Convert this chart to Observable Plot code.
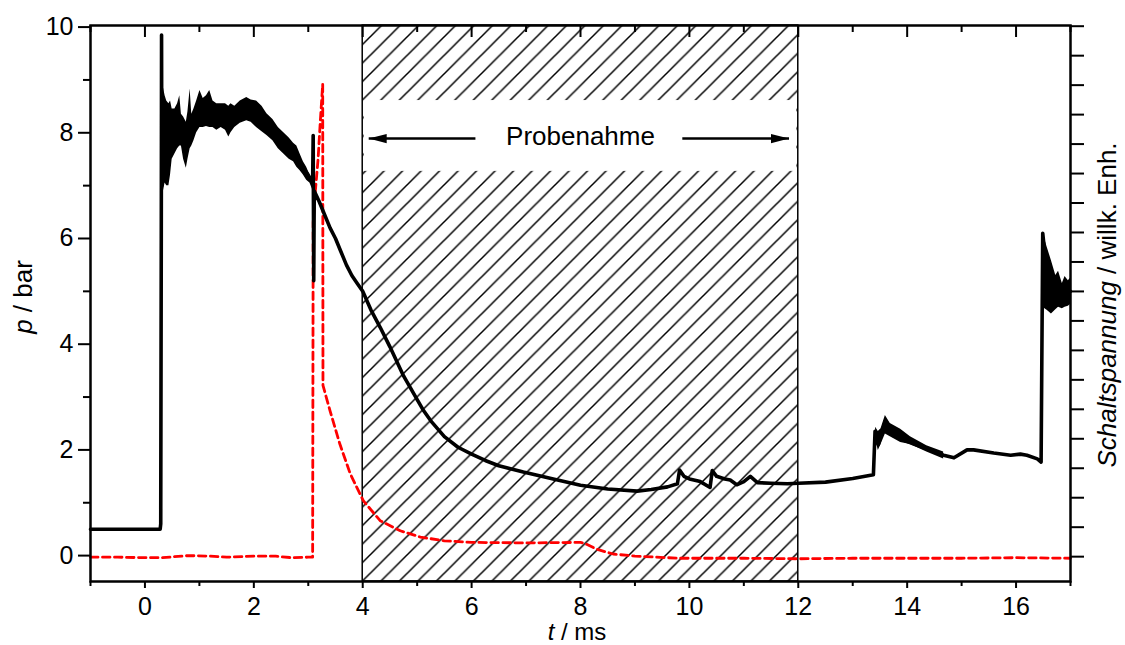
<!DOCTYPE html>
<html>
<head>
<meta charset="utf-8">
<script src="https://cdn.jsdelivr.net/npm/d3@7"></script>
<script src="https://cdn.jsdelivr.net/npm/@observablehq/plot@0.6"></script>
<style>
  body { margin: 0; background: #fff; }
  svg { display: block; }
</style>
</head>
<body>
<div id="chart"></div>
<script>
// ---------- data ----------
// pressure trace p(t) [bar], t in ms
const pT = [-1.0, 0.0, 0.28, 0.29, 0.30, 0.305, 0.31, 0.33, 0.4, 0.6, 0.8, 1.0, 1.5, 1.9, 2.2, 2.5, 2.8, 3.0,
  3.08, 3.09, 3.10, 3.11, 3.2, 3.3, 3.4, 3.5, 3.6, 3.7, 3.8, 3.9, 4.0, 4.15, 4.32, 4.5, 4.75, 5.0, 5.12, 5.25,
  5.5, 5.75, 6.0, 6.25, 6.5, 6.95, 7.5, 8.0, 8.5, 9.04, 9.3, 9.6, 9.78, 9.82, 9.9, 10.0, 10.2, 10.38, 10.42,
  10.5, 10.65, 10.75, 10.87, 11.0, 11.12, 11.25, 11.5, 11.8, 12.0, 12.5, 13.0, 13.38, 13.41, 13.47, 13.6,
  13.7, 13.9, 14.1, 14.36, 14.67, 14.86, 15.1, 15.22, 15.59, 15.9, 16.08, 16.2, 16.39, 16.46, 16.49, 16.55,
  16.65, 16.8, 17.0];
const pV = [0.5, 0.5, 0.5, 0.6, 6.0, 9.85, 7.0, 7.8, 7.8, 8.1, 8.0, 8.4, 8.3, 8.45, 8.2, 7.85, 7.5, 7.2,
  7.05, 7.95, 5.2, 6.9, 6.7, 6.45, 6.2, 6.0, 5.75, 5.5, 5.3, 5.15, 5.0, 4.65, 4.32, 3.95, 3.4, 2.95, 2.74, 2.55,
  2.25, 2.05, 1.92, 1.8, 1.7, 1.58, 1.45, 1.33, 1.26, 1.22, 1.25, 1.3, 1.36, 1.62, 1.5, 1.45, 1.4, 1.29, 1.61,
  1.5, 1.45, 1.43, 1.34, 1.4, 1.5, 1.38, 1.37, 1.36, 1.37, 1.39, 1.46, 1.53, 2.35, 2.1, 2.55,
  2.4, 2.2, 2.12, 2.02, 1.9, 1.85, 2.0, 2.0, 1.94, 1.9, 1.92, 1.9, 1.83, 1.77, 6.1, 5.5,
  5.1, 5.0, 5.0];

// noise envelope of the pressure trace (t, lower, upper)
const nT  = [0.31, 0.34, 0.37, 0.40, 0.44, 0.47, 0.50, 0.55, 0.60, 0.64, 0.67, 0.71, 0.76, 0.79, 0.83, 0.86,
  0.90, 0.95, 1.01, 1.07, 1.13, 1.19, 1.25, 1.32, 1.40, 1.48, 1.54, 1.58, 1.65, 1.75, 1.87, 1.95, 2.05, 2.15,
  2.24, 2.35, 2.45, 2.55, 2.65, 2.73, 2.79, 2.85, 2.91, 2.97, 3.03, 3.09];
const nLo = [6.2, 6.9, 7.05, 7.0, 7.0, 7.2, 7.5, 7.6, 7.7, 7.75, 7.75, 7.5, 7.33, 7.5, 7.7, 7.75,
  7.85, 8.0, 8.1, 8.1, 8.12, 8.1, 8.1, 8.05, 8.1, 8.05, 7.92, 8.0, 8.1, 8.18, 8.23, 8.2, 8.1, 8.02,
  7.95, 7.85, 7.7, 7.6, 7.5, 7.45, 7.35, 7.28, 7.2, 7.1, 7.05, 6.9];
const nHi = [8.9, 8.85, 8.7, 8.6, 8.55, 8.6, 8.45, 8.45, 8.55, 8.7, 8.35, 8.3, 8.2, 8.4, 8.83, 8.35,
  8.45, 8.6, 8.8, 8.65, 8.7, 8.8, 8.6, 8.55, 8.55, 8.55, 8.5, 8.55, 8.5, 8.6, 8.67, 8.62, 8.6, 8.5,
  8.36, 8.25, 8.1, 8.0, 7.9, 7.8, 7.75, 7.6, 7.45, 7.35, 7.2, 7.1];

const n2T  = [13.42, 13.47, 13.52, 13.60, 13.69, 13.88, 14.06, 14.36, 14.67];
const n2Lo = [2.2, 1.99, 2.1, 2.3, 2.25, 2.14, 2.1, 1.96, 1.83];
const n2Hi = [2.43, 2.35, 2.4, 2.65, 2.5, 2.39, 2.25, 2.08, 1.96];

const n3T  = [16.49, 16.57, 16.65, 16.73, 16.78, 16.85, 16.90, 16.96, 17.0];
const n3Lo = [4.7, 4.64, 4.57, 4.65, 4.7, 4.67, 4.7, 4.72, 4.75];
const n3Hi = [6.12, 5.84, 5.58, 5.3, 5.38, 5.15, 5.28, 5.2, 5.25];

// switching voltage (arbitrary units, drawn on the p scale)
const sT = [-1.0, -0.5, 0.0, 0.3, 0.8, 1.2, 1.5, 2.0, 2.4, 2.7, 3.0, 3.08, 3.09, 3.13, 3.18, 3.22, 3.265, 3.27,
  3.4, 3.58, 3.77, 4.01, 4.32, 4.69, 5.06, 5.5, 6.0, 7.0, 8.0, 8.1, 8.3, 8.6, 9.0, 9.8, 11.0, 12.0, 13.0,
  14.0, 15.0, 16.0, 17.0];
const sV = [-0.03, -0.03, -0.04, -0.04, 0.0, -0.01, -0.03, -0.01, -0.01, -0.04, -0.03, -0.03, 6.3, 6.9, 7.5, 8.2, 8.92, 3.22,
  2.74, 2.11, 1.55, 1.04, 0.66, 0.47, 0.35, 0.28, 0.25, 0.24, 0.25, 0.22, 0.12, 0.03, -0.01, -0.05, -0.05, -0.06, -0.05,
  -0.05, -0.05, -0.04, -0.05];

// sampling window
const windowStart = [4];
const windowEnd = [12];
const windowLabel = ["Probenahme"];

// ticks
const xMajor = [0, 2, 4, 6, 8, 10, 12, 14, 16];
const xMinor = [-1, 1, 3, 5, 7, 9, 11, 13, 15, 17];
const yMajor = [0, 2, 4, 6, 8, 10];
const yMinor = [1, 3, 5, 7, 9];
const voltTicks = [0, 1, 2, 3, 4, 5, 6, 7, 8, 9, 10, 11, 12, 13, 14, 15, 16, 17, 18];

// ---------- build ----------
const FONT = "'Liberation Sans', Arial, Helvetica, sans-serif";
const W = 1125, H = 645;
const M = {left: 90, right: 55, top: 25, bottom: 64};
const xDomain = [-1, 17];
const yDomain = [-0.49, 10.03];
const voltZero = -0.02, voltStep = 0.5576;   // right-axis unit on the p scale

const pData = pT.map((t, i) => ({t, p: pV[i]}));
const sData = sT.map((t, i) => ({t, s: sV[i]}));
const band1 = nT.map((t, i) => ({t, lo: nLo[i], hi: nHi[i]}));
const band2 = n2T.map((t, i) => ({t, lo: n2Lo[i], hi: n2Hi[i]}));
const band3 = n3T.map((t, i) => ({t, lo: n3Lo[i], hi: n3Hi[i]}));
const win = windowStart.map((a, i) => ({a, b: windowEnd[i], label: windowLabel[i]}));

// label band inside the window, arrows
const bandLo = 7.27, bandHi = 8.61, arrowY = 7.89, textY = 7.92;
const arrows = [{from: 6.07, to: 4.11, dir: 180}, {from: 9.87, to: 11.83, dir: 0}];

const head = {draw(ctx) { ctx.moveTo(0, 0); ctx.lineTo(-18, -4.7); ctx.lineTo(-18, 4.7); ctx.closePath(); }};
const fmt = d => String(d);

const plot = Plot.plot({
  width: W, height: H,
  marginLeft: M.left, marginRight: M.right, marginTop: M.top, marginBottom: M.bottom,
  style: {fontFamily: FONT, fontSize: "25px", color: "black", background: "white"},
  x: {domain: xDomain},
  y: {domain: yDomain},
  marks: [
    // hatched sampling window
    Plot.rect(win, {x1: "a", x2: "b", y1: yDomain[0], y2: yDomain[1], fill: "url(#hatch)", stroke: "black", strokeWidth: 1.5}),
    Plot.rect(win, {x1: "a", x2: "b", y1: bandLo, y2: bandHi, fill: "white", insetLeft: 1.5, insetRight: 1.5}),
    Plot.text(win, {x: d => (d.a + d.b) / 2, y: textY, text: "label", fontSize: 26, fill: "black"}),
    Plot.link(arrows, {x1: "from", x2: "to", y1: arrowY, y2: arrowY, stroke: "black", strokeWidth: 2.5}),
    Plot.dot(arrows.filter(d => d.dir === 180), {x: "to", y: arrowY, symbol: head, rotate: 180, fill: "black", stroke: "none"}),
    Plot.dot(arrows.filter(d => d.dir === 0), {x: "to", y: arrowY, symbol: head, rotate: 0, fill: "black", stroke: "none"}),
    // switching voltage
    Plot.line(sData, {x: "t", y: "s", stroke: "#ff0000", strokeWidth: 2.8, strokeDasharray: "7.5,4.5"}),
    // pressure noise envelopes + trace
    Plot.areaY(band1, {x: "t", y1: "lo", y2: "hi", fill: "black"}),
    Plot.areaY(band2, {x: "t", y1: "lo", y2: "hi", fill: "black"}),
    Plot.areaY(band3, {x: "t", y1: "lo", y2: "hi", fill: "black"}),
    Plot.line(pData, {x: "t", y: "p", stroke: "black", strokeWidth: 3.6, strokeLinejoin: "round"}),
    // axes
    Plot.axisX(xMajor, {anchor: "bottom", tickSize: 7, tickPadding: 9, strokeWidth: 2, label: null, fontSize: 25, tickFormat: fmt}),
    Plot.axisX(xMinor, {anchor: "bottom", tickSize: 5, strokeWidth: 2, label: null, tickFormat: () => ""}),
    Plot.axisX(xMajor, {anchor: "bottom", frameAnchor: "top", tickSize: 12, strokeWidth: 2, label: null, tickFormat: () => ""}),
    Plot.axisX(xMinor, {anchor: "bottom", frameAnchor: "top", tickSize: 7, strokeWidth: 2, label: null, tickFormat: () => ""}),
    Plot.axisY(yMajor, {anchor: "left", tickSize: 12, tickPadding: 5, strokeWidth: 2, label: null, fontSize: 25, tickFormat: fmt}),
    Plot.axisY(yMinor, {anchor: "left", tickSize: 7, strokeWidth: 2, label: null, tickFormat: () => ""}),
    Plot.axisY(voltTicks.map(k => voltZero + k * voltStep), {anchor: "right", tickSize: 13, strokeWidth: 2, label: null, tickFormat: () => ""}),
    Plot.frame({stroke: "black", strokeWidth: 2.5})
  ]
});

// hatch pattern
const svg = d3.select(plot);
const pat = svg.insert("defs", ":first-child").append("pattern")
  .attr("id", "hatch").attr("patternUnits", "userSpaceOnUse")
  .attr("width", 18.5).attr("height", 18.5);
pat.append("rect").attr("width", 18.5).attr("height", 18.5).attr("fill", "white");
pat.append("path").attr("d", "M0,18.5L18.5,0M-4.625,4.625L4.625,-4.625M13.875,23.125L23.125,13.875")
  .attr("stroke", "black").attr("stroke-width", 1.5).attr("fill", "none");

// axis titles
const lab = svg.append("g").attr("font-family", FONT).attr("font-size", 24).attr("fill", "black");
const cx = M.left + (W - M.left - M.right) / 2;
const cy = M.top + (H - M.top - M.bottom) / 2;
const xl = lab.append("text").attr("x", cx - 3).attr("y", H - 5).attr("text-anchor", "middle");
xl.append("tspan").attr("font-style", "italic").text("t");
xl.append("tspan").text(" / ms");
const yl = lab.append("text").attr("transform", `translate(32,${cy - 6}) rotate(-90)`).attr("text-anchor", "middle").attr("font-size", 26);
yl.append("tspan").attr("font-style", "italic").text("p");
yl.append("tspan").text(" / bar");
const rl = lab.append("text").attr("transform", `translate(${W - 9},${cy + 2}) rotate(-90)`).attr("text-anchor", "middle").attr("font-size", 26);
rl.append("tspan").attr("font-style", "italic").text("Schaltspannung");
rl.append("tspan").text(" / willk. Enh.");

document.getElementById("chart").appendChild(plot);
</script>
</body>
</html>
